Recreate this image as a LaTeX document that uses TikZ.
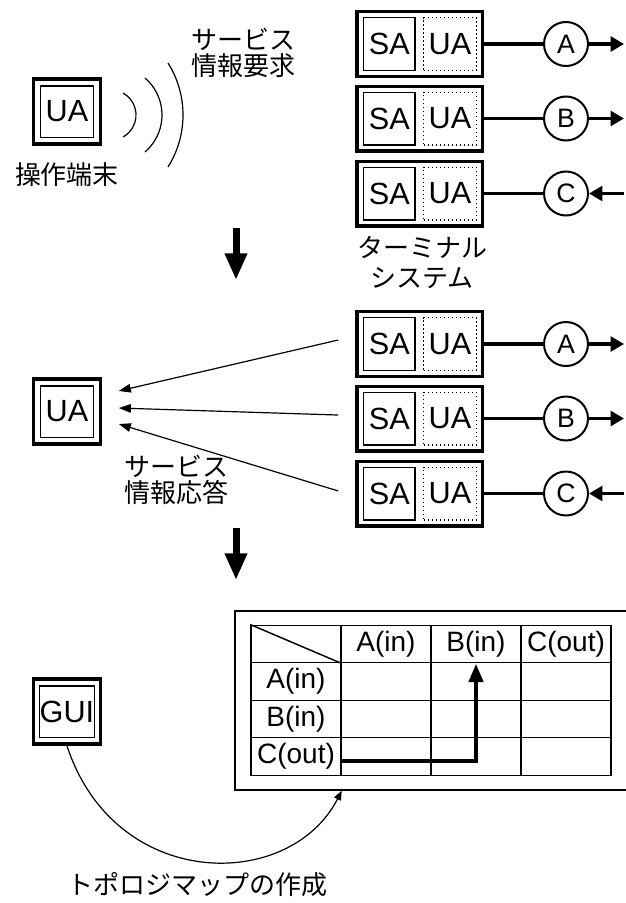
\documentclass[tikz,border=0pt]{standalone}
\usepackage{fontspec}
\setmainfont{Liberation Sans}
\newfontfamily\jp{Noto Sans CJK JP}
\usetikzlibrary{arrows.meta}
\tikzset{
  lat/.style={font=\fontsize{21}{24}\selectfont, inner sep=0pt},
  jtext/.style={font=\jp\fontsize{19.5}{19.5}\selectfont, align=center, inner sep=0pt},
  outerbox/.style={draw, line width=2.6pt, inner sep=0pt, minimum width=50pt, minimum height=49pt},
  innerbox/.style={draw, line width=1.1pt, inner sep=0pt, minimum width=39.4pt, minimum height=38.6pt, font=\fontsize{23}{26}\selectfont},
  termbox/.style={draw, line width=2.6pt, inner sep=0pt, minimum width=94.1pt, minimum height=48.4pt},
  sabox/.style={draw, line width=1.1pt, inner sep=0pt, minimum width=38.6pt, minimum height=39.4pt, font=\fontsize{23}{26}\selectfont},
  uabox/.style={draw, line width=1.1pt, dash pattern=on 1.3pt off 1.7pt, inner sep=0pt, minimum width=39.4pt, minimum height=39.4pt, font=\fontsize{23}{26}\selectfont},
  port/.style={draw, circle, line width=1.5pt, inner sep=0pt, minimum size=33pt, font=\fontsize{20}{22}\selectfont},
  conn/.style={line width=2.6pt},
  conntip/.style={line width=2.6pt, -{Triangle[length=10pt,width=11pt]}},
  resp/.style={line width=0.9pt, -{Triangle[length=9pt,width=6.5pt]}},
  wave/.style={line width=0.9pt},
  bigdown/.style={line width=5.25pt, -{Triangle[length=20pt,width=15.75pt]}},
  cell/.style={draw, line width=1.1pt, inner sep=0pt, minimum width=67.5pt, minimum height=28.125pt},
  pathtip/.style={line width=3.4pt, -{Triangle[length=14pt,width=10.5pt]}},
  maparrow/.style={line width=0.9pt, -{Triangle[length=7pt,width=5.5pt]}}
}
\newcommand\termgroup{%
  \foreach \n/\yy/\L in {1/44/A,2/118.5/B,3/193.5/C} {
    \node[termbox] (t\n) at (419.5,\yy) {};
    \node[sabox] (sa\n) at (389.3,\yy) {SA};
    \node[uabox] (ua\n) at (450,\yy) {UA};
    \node[port] (p\n) at (566,\yy) {\L};
    \coordinate (e\n) at (624,\yy);
    \draw[conn] (t\n.east) -- (p\n.west);
  }
  \draw[conntip] (p1.east) -- (e1);
  \draw[conntip] (p2.east) -- (e2);
  \draw[conntip] (e3) -- (p3.east);
}
\begin{document}
\begin{tikzpicture}[x=0.75pt,y=-0.75pt]
\useasboundingbox (0,0) rectangle (625,903);

% ---- top section ----
\node[outerbox] (uaout) at (67,111.5) {};
\node[innerbox] (uain) at (67,111.5) {UA};
\node[jtext] (ope) at (67,175) {操作端末};
\draw[wave] (123,93) arc[start angle=-61.2, end angle=61.2, radius=25.1];
\draw[wave] (145,78) arc[start angle=-49.3, end angle=49.3, radius=48.8];
\draw[wave] (168,63) arc[start angle=-32.2, end angle=32.2, radius=97.6];
\node[jtext] (req) at (243.5,53) {サービス\\情報要求};
\begin{scope}[name prefix=top-]
  \termgroup
\end{scope}
\node[jtext, font=\jp\fontsize{19.5}{22}\selectfont] (tsys) at (422,262.5) {ターミナル\\システム};
\coordinate (d1s) at (236,228);
\coordinate (d1e) at (236,280);
\draw[bigdown] (d1s) -- (d1e);

% ---- middle section ----
\node[outerbox] (muaout) at (67,411.5) {};
\node[innerbox] (muain) at (67,411.5) {UA};
\begin{scope}[shift={(0,300)}, name prefix=m-]
  \termgroup
\end{scope}
\draw[resp] ([xshift=-12.6pt,yshift=3pt]m-t1.west) -- ([xshift=12.6pt,yshift=15.4pt]muaout.east);
\draw[resp] ([xshift=-12.6pt,yshift=2.6pt]m-t2.west) -- ([xshift=12.6pt,yshift=2.6pt]muaout.east);
\draw[resp] ([xshift=-12.6pt,yshift=1.9pt]m-t3.west) -- ([xshift=12.6pt,yshift=-9.4pt]muaout.east);
\node[jtext] (respt) at (176,480) {サービス\\情報応答};
\coordinate (d2s) at (236,528);
\coordinate (d2e) at (236,580);
\draw[bigdown] (d2s) -- (d2e);

% ---- bottom section ----
\node[draw, line width=1.1pt, inner sep=0pt, minimum width=303.75pt, minimum height=134.25pt] (map) at (437.5,700.5) {};
\foreach \r in {0,...,3} {
  \foreach \c in {0,...,3} {
    \node[cell] (c\r\c) at (296+90*\c, 644+37.5*\r) {};
  }
}
\draw[line width=1.1pt] (c00.north west) -- (c00.south east);
\node[lat] (h1) at (c01) {A(in)};
\node[lat] (h2) at (c02) {B(in)};
\node[lat] (h3) at (c03) {C(out)};
\node[lat] (r1) at (c10) {A(in)};
\node[lat] (r2) at (c20) {B(in)};
\node[lat] (r3) at (c30) {C(out)};
\draw[pathtip] ([yshift=-3.4pt]c30.east) -| (c02.south);

\node[outerbox] (guiout) at (67,711.5) {};
\node[innerbox] (gui) at (67,711.5) {GUI};
\draw[maparrow] (guiout.south) .. controls (115,892) and (290,892) .. (c30.east |- map.south);
\node[jtext] (topo) at (197,885) {トポロジマップの作成};
\end{tikzpicture}
\end{document}
